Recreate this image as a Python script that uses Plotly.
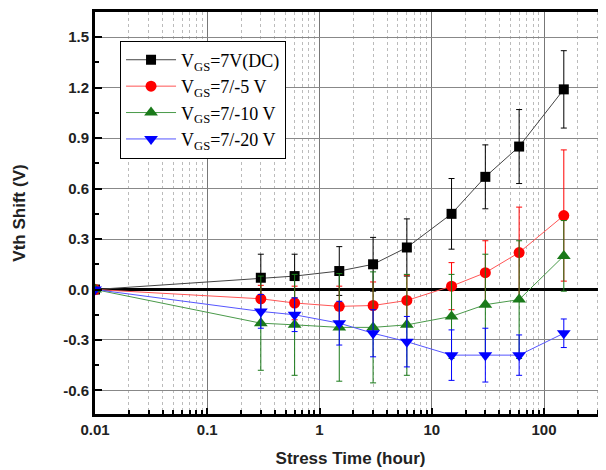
import plotly.graph_objects as go

time_h = [0.01, 0.3, 0.6, 1.5, 3, 6, 15, 30, 60, 150]

dc_shift = [0.0, 0.07, 0.08, 0.11, 0.15, 0.25, 0.45, 0.67, 0.85, 1.19]
dc_err = [0.0, 0.14, 0.13, 0.145, 0.16, 0.17, 0.21, 0.19, 0.22, 0.23]

m5_shift = [0.0, -0.055, -0.08, -0.10, -0.095, -0.065, 0.02, 0.10, 0.22, 0.44]
m5_err = [0.0, 0.08, 0.10, 0.12, 0.14, 0.15, 0.14, 0.19, 0.27, 0.39]

m10_shift = [0.0, -0.20, -0.21, -0.225, -0.225, -0.21, -0.16, -0.09, -0.06, 0.20]
m10_err = [0.0, 0.28, 0.30, 0.32, 0.33, 0.30, 0.25, 0.30, 0.35, 0.21]

m20_shift = [0.0, -0.13, -0.15, -0.20, -0.26, -0.31, -0.39, -0.39, -0.39, -0.26]
m20_err = [0.0, 0.10, 0.10, 0.13, 0.14, 0.15, 0.15, 0.16, 0.12, 0.085]

series = [
    ("V<sub>GS</sub>=7V(DC)", dc_shift, dc_err, "black", "#444444", "square", 10),
    ("V<sub>GS</sub>=7/-5 V", m5_shift, m5_err, "red", "#ff5555", "circle", 11),
    ("V<sub>GS</sub>=7/-10 V", m10_shift, m10_err, "#1a7a1a", "#4a9a4a", "triangle-up", 12),
    ("V<sub>GS</sub>=7/-20 V", m20_shift, m20_err, "blue", "#5555ff", "triangle-down", 12),
]

y_ticks = [-0.6, -0.3, 0.0, 0.3, 0.6, 0.9, 1.2, 1.5]
y_tick_text = ["-0.6", "-0.3", "0.0", "0.3", "0.6", "0.9", "1.2", "1.5"]
x_ticks = [0.01, 0.1, 1, 10, 100]
x_tick_text = ["0.01", "0.1", "1", "10", "100"]

minor_x = [m * 10 ** e for e in range(-2, 3) for m in range(2, 10)]

fig = go.Figure()
for name, ys, errs, mcol, lcol, sym, size in series:
    fig.add_trace(go.Scatter(
        x=time_h, y=ys, name=name, mode="lines+markers",
        line=dict(color=lcol, width=1),
        marker=dict(symbol=sym, size=size, color=mcol),
        error_y=dict(type="data", array=errs, visible=True, color=mcol,
                     thickness=1, width=3),
    ))

# page body has an 8px default margin, so the figure is 8px smaller
fig.update_layout(
    width=598, height=462,
    margin=dict(l=87, r=0, t=4, b=56),
    paper_bgcolor="white", plot_bgcolor="white",
    showlegend=True,
    legend=dict(
        x=0.049, y=0.929, xanchor="left", yanchor="top",
        bgcolor="white", bordercolor="black", borderwidth=1,
        font=dict(family="Liberation Serif", size=18, color="black"),
        itemwidth=50, tracegroupgap=0,
    ),
)

fig.update_xaxes(
    type="log", range=[-2, 2.552],
    tickmode="array", tickvals=x_ticks, ticktext=x_tick_text,
    ticks="inside", ticklen=6, tickwidth=2, tickcolor="black",
    tickfont=dict(family="Liberation Sans", size=15, color="#222222", weight="bold"),
    showline=True, linewidth=3, linecolor="black", mirror=True,
    showgrid=True, gridcolor="#777777", gridwidth=1,
    minor=dict(tickmode="array", tickvals=minor_x, ticks="inside", ticklen=4,
               tickwidth=2, tickcolor="black", showgrid=True,
               gridcolor="#bbbbbb", griddash="dot", gridwidth=1),
    title=dict(text="Stress Time (hour)",
               font=dict(family="Liberation Sans", size=17, color="#222222", weight="bold"),
               standoff=16),
)

fig.update_yaxes(
    range=[-0.74, 1.65],
    tickmode="array", tickvals=y_ticks, ticktext=y_tick_text,
    ticks="inside", ticklen=7, tickwidth=2, tickcolor="black",
    tickfont=dict(family="Liberation Sans", size=15, color="#222222", weight="bold"),
    showline=True, linewidth=3, linecolor="black", mirror=False,
    showgrid=True, gridcolor="#888888", gridwidth=1,
    zeroline=True, zerolinecolor="black", zerolinewidth=3,
    minor=dict(dtick=0.15, tick0=0, ticks="inside", ticklen=4, tickwidth=2,
               tickcolor="black", showgrid=False),
    title=dict(text="Vth Shift (V)",
               font=dict(family="Liberation Sans", size=17, color="#222222", weight="bold"),
               standoff=34),
)

fig.write_html("out.html")
